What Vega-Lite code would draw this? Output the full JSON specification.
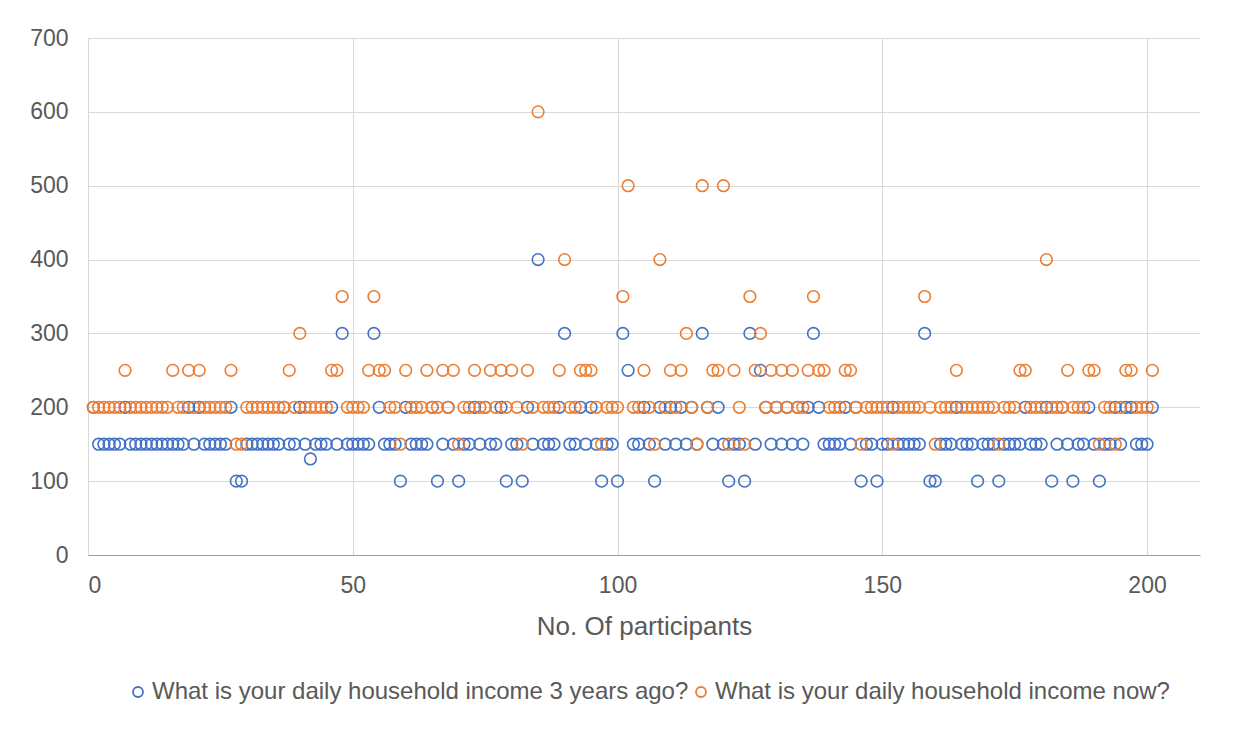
{
  "$schema": "https://vega.github.io/schema/vega-lite/v6.json",
  "width": 1112,
  "height": 517,
  "autosize": {"type": "none"},
  "padding": {"left": 88, "top": 38, "right": 47, "bottom": 183},
  "background": "white",
  "config": {
    "font": "Liberation Sans",
    "view": {"stroke": null}
  },
  "data": {
    "values": [
      {"p":1,"ago":200,"now":200},{"p":2,"ago":150,"now":200},{"p":3,"ago":150,"now":200},{"p":4,"ago":150,"now":200},
      {"p":5,"ago":150,"now":200},{"p":6,"ago":150,"now":200},{"p":7,"ago":200,"now":250},{"p":8,"ago":150,"now":200},
      {"p":9,"ago":150,"now":200},{"p":10,"ago":150,"now":200},{"p":11,"ago":150,"now":200},{"p":12,"ago":150,"now":200},
      {"p":13,"ago":150,"now":200},{"p":14,"ago":150,"now":200},{"p":15,"ago":150,"now":200},{"p":16,"ago":150,"now":250},
      {"p":17,"ago":150,"now":200},{"p":18,"ago":150,"now":200},{"p":19,"ago":200,"now":250},{"p":20,"ago":150,"now":200},
      {"p":21,"ago":200,"now":250},{"p":22,"ago":150,"now":200},{"p":23,"ago":150,"now":200},{"p":24,"ago":150,"now":200},
      {"p":25,"ago":150,"now":200},{"p":26,"ago":150,"now":200},{"p":27,"ago":200,"now":250},{"p":28,"ago":100,"now":150},
      {"p":29,"ago":100,"now":150},{"p":30,"ago":150,"now":200},{"p":31,"ago":150,"now":200},{"p":32,"ago":150,"now":200},
      {"p":33,"ago":150,"now":200},{"p":34,"ago":150,"now":200},{"p":35,"ago":150,"now":200},{"p":36,"ago":150,"now":200},
      {"p":37,"ago":200,"now":200},{"p":38,"ago":150,"now":250},{"p":39,"ago":150,"now":200},{"p":40,"ago":200,"now":300},
      {"p":41,"ago":150,"now":200},{"p":42,"ago":130,"now":200},{"p":43,"ago":150,"now":200},{"p":44,"ago":150,"now":200},
      {"p":45,"ago":150,"now":200},{"p":46,"ago":200,"now":250},{"p":47,"ago":150,"now":250},{"p":48,"ago":300,"now":350},
      {"p":49,"ago":150,"now":200},{"p":50,"ago":150,"now":200},{"p":51,"ago":150,"now":200},{"p":52,"ago":150,"now":200},
      {"p":53,"ago":150,"now":250},{"p":54,"ago":300,"now":350},{"p":55,"ago":200,"now":250},{"p":56,"ago":150,"now":250},
      {"p":57,"ago":150,"now":200},{"p":58,"ago":150,"now":200},{"p":59,"ago":100,"now":150},{"p":60,"ago":200,"now":250},
      {"p":61,"ago":150,"now":200},{"p":62,"ago":150,"now":200},{"p":63,"ago":150,"now":200},{"p":64,"ago":150,"now":250},
      {"p":65,"ago":200,"now":200},{"p":66,"ago":100,"now":200},{"p":67,"ago":150,"now":250},{"p":68,"ago":200,"now":200},
      {"p":69,"ago":150,"now":250},{"p":70,"ago":100,"now":150},{"p":71,"ago":150,"now":200},{"p":72,"ago":150,"now":200},
      {"p":73,"ago":200,"now":250},{"p":74,"ago":150,"now":200},{"p":75,"ago":200,"now":200},{"p":76,"ago":150,"now":250},
      {"p":77,"ago":150,"now":200},{"p":78,"ago":200,"now":250},{"p":79,"ago":100,"now":200},{"p":80,"ago":150,"now":250},
      {"p":81,"ago":150,"now":200},{"p":82,"ago":100,"now":150},{"p":83,"ago":200,"now":250},{"p":84,"ago":150,"now":200},
      {"p":85,"ago":400,"now":600},{"p":86,"ago":150,"now":200},{"p":87,"ago":150,"now":200},{"p":88,"ago":150,"now":200},
      {"p":89,"ago":200,"now":250},{"p":90,"ago":300,"now":400},{"p":91,"ago":150,"now":200},{"p":92,"ago":150,"now":200},
      {"p":93,"ago":200,"now":250},{"p":94,"ago":150,"now":250},{"p":95,"ago":200,"now":250},{"p":96,"ago":150,"now":200},
      {"p":97,"ago":100,"now":150},{"p":98,"ago":150,"now":200},{"p":99,"ago":150,"now":200},{"p":100,"ago":100,"now":200},
      {"p":101,"ago":300,"now":350},{"p":102,"ago":250,"now":500},{"p":103,"ago":150,"now":200},{"p":104,"ago":150,"now":200},
      {"p":105,"ago":200,"now":250},{"p":106,"ago":150,"now":200},{"p":107,"ago":100,"now":150},{"p":108,"ago":200,"now":400},
      {"p":109,"ago":150,"now":200},{"p":110,"ago":200,"now":250},{"p":111,"ago":150,"now":200},{"p":112,"ago":200,"now":250},
      {"p":113,"ago":150,"now":300},{"p":114,"ago":200,"now":200},{"p":115,"ago":150,"now":150},{"p":116,"ago":300,"now":500},
      {"p":117,"ago":200,"now":200},{"p":118,"ago":150,"now":250},{"p":119,"ago":200,"now":250},{"p":120,"ago":150,"now":500},
      {"p":121,"ago":100,"now":150},{"p":122,"ago":150,"now":250},{"p":123,"ago":150,"now":200},{"p":124,"ago":100,"now":150},
      {"p":125,"ago":300,"now":350},{"p":126,"ago":150,"now":250},{"p":127,"ago":250,"now":300},{"p":128,"ago":200,"now":200},
      {"p":129,"ago":150,"now":250},{"p":130,"ago":200,"now":200},{"p":131,"ago":150,"now":250},{"p":132,"ago":200,"now":200},
      {"p":133,"ago":150,"now":250},{"p":134,"ago":200,"now":200},{"p":135,"ago":150,"now":200},{"p":136,"ago":200,"now":250},
      {"p":137,"ago":300,"now":350},{"p":138,"ago":200,"now":250},{"p":139,"ago":150,"now":250},{"p":140,"ago":150,"now":200},
      {"p":141,"ago":150,"now":200},{"p":142,"ago":150,"now":200},{"p":143,"ago":200,"now":250},{"p":144,"ago":150,"now":250},
      {"p":145,"ago":200,"now":200},{"p":146,"ago":100,"now":150},{"p":147,"ago":150,"now":200},{"p":148,"ago":150,"now":200},
      {"p":149,"ago":100,"now":200},{"p":150,"ago":150,"now":200},{"p":151,"ago":150,"now":200},{"p":152,"ago":200,"now":150},
      {"p":153,"ago":150,"now":200},{"p":154,"ago":150,"now":200},{"p":155,"ago":150,"now":200},{"p":156,"ago":150,"now":200},
      {"p":157,"ago":150,"now":200},{"p":158,"ago":300,"now":350},{"p":159,"ago":100,"now":200},{"p":160,"ago":100,"now":150},
      {"p":161,"ago":150,"now":200},{"p":162,"ago":150,"now":200},{"p":163,"ago":150,"now":200},{"p":164,"ago":200,"now":250},
      {"p":165,"ago":150,"now":200},{"p":166,"ago":150,"now":200},{"p":167,"ago":150,"now":200},{"p":168,"ago":100,"now":200},
      {"p":169,"ago":150,"now":200},{"p":170,"ago":150,"now":200},{"p":171,"ago":150,"now":200},{"p":172,"ago":100,"now":150},
      {"p":173,"ago":150,"now":200},{"p":174,"ago":150,"now":200},{"p":175,"ago":150,"now":200},{"p":176,"ago":150,"now":250},
      {"p":177,"ago":200,"now":250},{"p":178,"ago":150,"now":200},{"p":179,"ago":150,"now":200},{"p":180,"ago":150,"now":200},
      {"p":181,"ago":200,"now":400},{"p":182,"ago":100,"now":200},{"p":183,"ago":150,"now":200},{"p":184,"ago":200,"now":200},
      {"p":185,"ago":150,"now":250},{"p":186,"ago":100,"now":200},{"p":187,"ago":150,"now":200},{"p":188,"ago":150,"now":200},
      {"p":189,"ago":200,"now":250},{"p":190,"ago":150,"now":250},{"p":191,"ago":100,"now":150},{"p":192,"ago":150,"now":200},
      {"p":193,"ago":150,"now":200},{"p":194,"ago":200,"now":150},{"p":195,"ago":150,"now":200},{"p":196,"ago":200,"now":250},
      {"p":197,"ago":200,"now":250},{"p":198,"ago":150,"now":200},{"p":199,"ago":150,"now":200},{"p":200,"ago":150,"now":200},
      {"p":201,"ago":200,"now":250}
    ]
  },
  "transform": [
    {"fold": ["ago", "now"], "as": ["series", "income"]}
  ],
  "mark": {"type": "point", "shape": "circle", "filled": false, "size": 135, "strokeWidth": 1.6, "opacity": 1},
  "encoding": {
    "x": {
      "field": "p",
      "type": "quantitative",
      "scale": {"domain": [0, 210], "nice": false, "zero": false},
      "axis": {
        "title": "No. Of participants",
        "values": [0, 50, 100, 150, 200],
        "grid": true,
        "gridColor": "#d9d9d9",
        "gridWidth": 1,
        "domain": true,
        "domainColor": "#9e9e9e",
        "ticks": false,
        "labelFontSize": 23,
        "labelColor": "#595959",
        "labelPadding": 19,
        "titleFontSize": 26,
        "titleFontWeight": "normal",
        "titleColor": "#595959",
        "titlePadding": 16
      }
    },
    "y": {
      "field": "income",
      "type": "quantitative",
      "scale": {"domain": [0, 700], "nice": false},
      "axis": {
        "title": null,
        "values": [0, 100, 200, 300, 400, 500, 600, 700],
        "grid": true,
        "gridColor": "#d9d9d9",
        "gridWidth": 1,
        "domain": false,
        "ticks": false,
        "labelFontSize": 23,
        "labelColor": "#595959",
        "labelPadding": 20
      }
    },
    "color": {
      "field": "series",
      "type": "nominal",
      "scale": {"domain": ["ago", "now"], "range": ["#4472C4", "#ED7D31"]},
      "legend": {
        "title": null,
        "orient": "none",
        "legendX": 38,
        "legendY": 642,
        "direction": "horizontal",
        "symbolType": "circle",
        "symbolSize": 100,
        "symbolStrokeWidth": 1.8,
        "labelFontSize": 24,
        "labelColor": "#595959",
        "labelLimit": 0,
        "labelOffset": 2,
        "columnPadding": 0,
        "padding": 0,
        "labelExpr": "datum.label == 'ago' ? 'What is your daily household income 3 years ago?' : 'What is your daily household income now?'"
      }
    },
    "order": {"field": "series"}
  }
}
